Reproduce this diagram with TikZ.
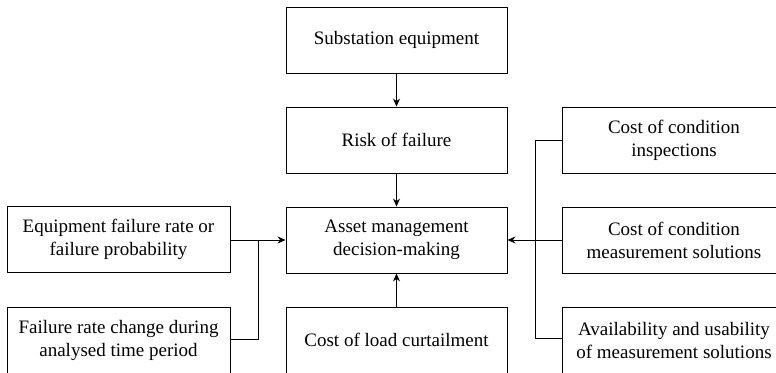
\documentclass[tikz,border=0pt]{standalone}
\usepackage{fontspec}
\newfontfamily\boxfont{LiberationSerif-Regular.ttf}
\usetikzlibrary{arrows.meta}
\begin{document}
\begin{tikzpicture}[x=1pt,y=-1pt,
  box/.style={draw, line width=0.9pt, inner sep=0pt, minimum height=66pt,
    align=center, font=\boxfont\fontsize{19}{23}\selectfont},
  cbox/.style={box, minimum width=221pt},
  sbox/.style={box, minimum width=223pt},
  rbox/.style={box, minimum width=224pt},
  link/.style={line width=0.9pt},
  arr/.style={link, -{Stealth[length=8pt,width=7pt]}}]
\useasboundingbox (0,0) rectangle (776,372);
% centre column
\node[cbox] (sub)   at (396.5,40)  {Substation equipment};
\node[cbox] (risk)  at (396.5,140) {Risk of failure};
\node[cbox] (asset) at (396.5,240) {Asset management\\decision-making};
\node[cbox] (load)  at (396.5,340) {Cost of load curtailment};
% left column
\node[sbox] (rate)   at (118.5,239) {Equipment failure rate or\\failure probability};
\node[sbox] (change) at (118.5,340) {Failure rate change during\\analysed time period};
% right column
\node[rbox] (insp)  at (674,140) {Cost of condition\\inspections};
\node[rbox] (meas)  at (674,240) {Cost of condition\\measurement solutions};
\node[rbox] (avail) at (674,340) {Availability and usability\\of measurement solutions};
% junction points
\coordinate (jl) at (258,240);
\coordinate (jr) at (535,240);
% connectors
\draw[arr] (sub) -- (risk);
\draw[arr] (risk) -- (asset);
\draw[arr] (load.north) -- (asset.south);
\draw[arr] (rate.east |- jl) -- (asset.west);
\draw[link] (change.east |- 0,339) -| (jl);
\draw[arr] (meas.west) -- (asset.east);
\draw[link] (insp.west) -| (jr);
\draw[link] (avail.west |- 0,338) -| (jr);
\end{tikzpicture}
\end{document}
